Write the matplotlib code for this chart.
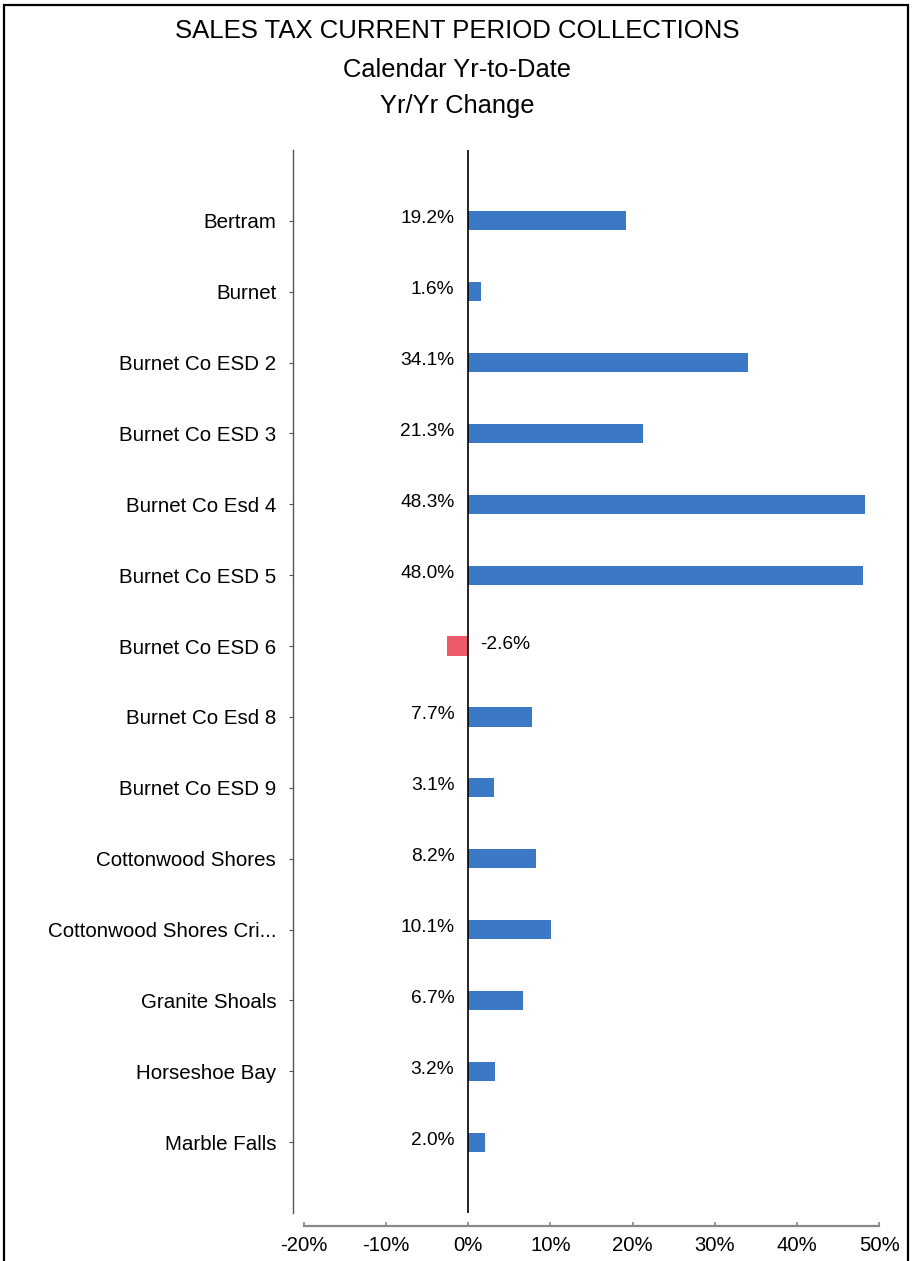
import matplotlib
matplotlib.use("Agg")
import matplotlib.pyplot as plt
from matplotlib.patches import Rectangle

# datos
places = ["Bertram", "Burnet", "Burnet Co ESD 2", "Burnet Co ESD 3", "Burnet Co Esd 4",
          "Burnet Co ESD 5", "Burnet Co ESD 6", "Burnet Co Esd 8", "Burnet Co ESD 9",
          "Cottonwood Shores", "Cottonwood Shores Cri...", "Granite Shoals",
          "Horseshoe Bay", "Marble Falls"]
change = [19.2, 1.6, 34.1, 21.3, 48.3, 48.0, -2.6, 7.7, 3.1, 8.2, 10.1, 6.7, 3.2, 2.0]
xticks = [-20, -10, 0, 10, 20, 30, 40, 50]

plt.rcParams['font.family'] = ['Liberation Sans', 'DejaVu Sans']

W, H = 914, 1261
fig = plt.figure(figsize=(W / 100, H / 100), dpi=100)
fig.patch.set_facecolor("white")

# marco de la pagina
fig.add_artist(Rectangle((4 / W, -0.01), 904 / W, 1 - 5 / H + 0.01, transform=fig.transFigure,
                         fill=False, edgecolor="black", linewidth=1.6))

fig.text(0.5, 1 - 31 / H, "SALES TAX CURRENT PERIOD COLLECTIONS", ha="center", va="center", fontsize=18.5)
fig.text(0.5, 1 - 70 / H, "Calendar Yr-to-Date", ha="center", va="center", fontsize=18.4)
fig.text(0.5, 1 - 106 / H, "Yr/Yr Change", ha="center", va="center", fontsize=18.4)

ax = fig.add_axes([304 / W, 1 - 1213 / H, (879 - 304) / W, (1213 - 150) / H])

y = list(range(len(places)))
cols = ["#3B78C6" if v >= 0 else "#EE5A6A" for v in change]
ax.barh(y, change, height=0.27, color=cols)

for i, v in enumerate(change):
    if v >= 0:
        ax.annotate("%.1f%%" % v, (0, i), xytext=(-14, 2), textcoords="offset pixels",
                    ha="right", va="center", fontsize=13.8)
    else:
        ax.annotate("%.1f%%" % v, (0, i), xytext=(12, 2), textcoords="offset pixels",
                    ha="left", va="center", fontsize=13.8)

ax.axvline(0, color="black", linewidth=1.2)

ax.set_xlim(-20, 50)
ax.set_ylim(len(places), -1)
ax.set_yticks(y)
ax.set_yticklabels(places)
ax.set_xticks(xticks)
ax.set_xticklabels(["%d%%" % t for t in xticks])

for s in ["top", "right"]:
    ax.spines[s].set_visible(False)
ax.spines["left"].set_position(("outward", 8))
ax.spines["left"].set_color("#555555")
ax.spines["left"].set_linewidth(1.0)
ax.spines["bottom"].set_position(("outward", 9.5))
ax.spines["bottom"].set_color("#888888")
ax.spines["bottom"].set_linewidth(1.6)

ax.tick_params(axis="y", length=3, width=0.8, color="#555555", pad=9, labelsize=14.8)
ax.tick_params(axis="x", direction="in", length=3, width=1.2, color="#888888", pad=7, labelsize=14.6)
for lab in ax.get_yticklabels():
    lab.set_va("center_baseline")

fig.savefig("out.png", dpi=100)
